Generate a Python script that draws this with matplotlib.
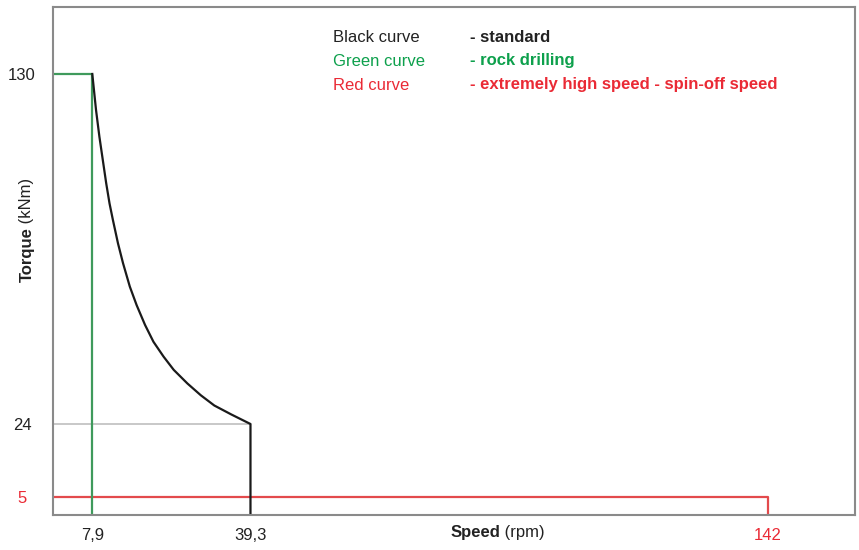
import numpy as np
import matplotlib
matplotlib.use("Agg")
import matplotlib.pyplot as plt

plt.rcParams['font.family'] = ['Liberation Sans', 'DejaVu Sans']

# values
black_speed = [7.9, 8.64, 9.31, 9.98, 10.66, 11.32, 11.99, 13.0, 14.0, 15.35, 16.7,
               18.37, 20.04, 22.05, 24.06, 26.76, 29.44, 32.12, 35.48, 39.3, 39.3]
black_torque = [130, 119.1, 111.0, 104.0, 96.9, 90.8, 85.8, 78.7, 72.7, 65.6, 60.0,
                54.0, 48.9, 44.4, 40.4, 36.3, 32.7, 29.6, 26.9, 24, 0]
green_speed = [0, 7.9, 7.9]
green_torque = [130, 130, 0]
red_speed = [0, 142, 142]
red_torque = [5, 5, 0]
ref_speed = [0, 39.3]
ref_torque = [24, 24]

x_ticks = [7.9, 39.3, 142]
x_tick_labels = ['7,9', '39,3', '142']
y_ticks = [5, 24, 130]
y_tick_labels = ['5', '24', '130']

legend_names = ['Black curve', 'Green curve', 'Red curve']
legend_desc = ['- standard', '- rock drilling', '- extremely high speed - spin-off speed']

# the drawing is schematic: the torque axis is not evenly spaced
y_data = [-100, 0, 5, 24, 130, 400]
y_pix = [-360, 0, 18, 91, 441, 1332]


def y_fwd(v):
    return np.interp(v, y_data, y_pix)


def y_inv(v):
    return np.interp(v, y_pix, y_data)


GREEN = '#3f9a5c'
RED = '#e34a4c'
TXT_GREEN = '#0da04c'
TXT_RED = '#ea2a35'
FRAME = '#8a8a8a'

fig = plt.figure(figsize=(8.59, 5.5), dpi=100)
ax = fig.add_axes([52.5 / 859, 35 / 550, 802.5 / 859, 508 / 550])
ax.set_yscale('function', functions=(y_fwd, y_inv))

ax.plot(ref_speed, ref_torque, color='#c8c8c8', lw=1.4)
ax.plot(red_speed, red_torque, color=RED, lw=1.6)
ax.plot(green_speed, green_torque, color=GREEN, lw=1.6)
ax.plot(black_speed, black_torque, color='#1a1a1a', lw=1.6,
        solid_joinstyle='round')

ax.set_xlim(0, 159.3)
ax.set_ylim(0, 150.3)

for s in ax.spines.values():
    s.set_color(FRAME)
    s.set_linewidth(1.5)

ax.set_xticks(x_ticks)
ax.set_xticklabels(x_tick_labels)
ax.set_yticks(y_ticks)
ax.set_yticklabels(y_tick_labels)
ax.yaxis.set_minor_locator(matplotlib.ticker.NullLocator())
ax.tick_params(axis='both', length=0, labelsize=12, colors='#222222')
ax.tick_params(axis='x', pad=9)
ax.tick_params(axis='y', pad=22)
for lab in ax.get_yticklabels():
    lab.set_horizontalalignment('center')
ax.get_xticklabels()[2].set_color(TXT_RED)
ax.get_yticklabels()[0].set_color(TXT_RED)

# axis titles, bold name + regular unit
sp = fig.text(500 / 859, 1 - 533 / 550, 'Speed', fontsize=12, fontweight='bold',
              ha='right', va='center', color='#222222')
ax.annotate(' (rpm)', xy=(1, 0.5), xycoords=sp, fontsize=12, ha='left', va='center',
            color='#222222')
tq = fig.text(27 / 859, 1 - 255 / 550, 'Torque', fontsize=12, fontweight='bold',
              rotation=90, ha='center', va='center', color='#222222')
ax.annotate(' (kNm)', xy=(0.5, 1), xycoords=tq, fontsize=12, rotation=90,
            ha='center', va='bottom', color='#222222')

# legend block
colors_name = ['#222222', TXT_GREEN, TXT_RED]
rows_y = [37, 61, 85]
for name, desc, c, yy in zip(legend_names, legend_desc, colors_name, rows_y):
    fig.text(333 / 859, 1 - yy / 550, name, fontsize=12, color=c, va='center')
    fig.text(470 / 859, 1 - yy / 550, desc, fontsize=12, color=c, va='center',
             fontweight='bold')

fig.savefig('out.png', dpi=100)
